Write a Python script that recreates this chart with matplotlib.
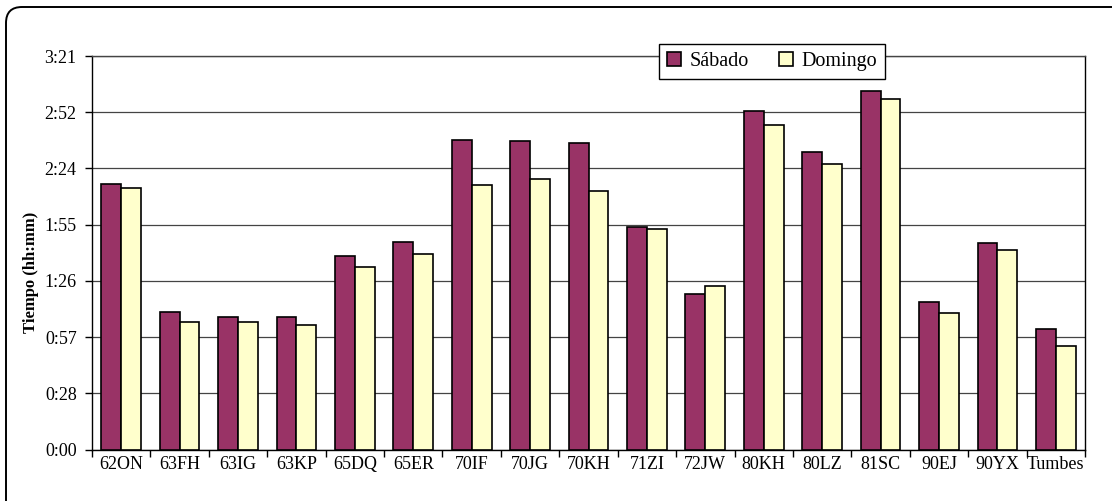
import numpy as np
import matplotlib
matplotlib.use("Agg")
import matplotlib.pyplot as plt
from matplotlib.patches import FancyBboxPatch

# ---- data (minutes) ----
categories = ["62ON", "63FH", "63IG", "63KP", "65DQ", "65ER", "70IF", "70JG", "70KH",
              "71ZI", "72JW", "80KH", "80LZ", "81SC", "90EJ", "90YX", "Tumbes"]
sabado = [136.0, 70.3, 67.9, 67.9, 99.3, 106.5, 158.7, 158.0, 157.2,
          113.8, 79.7, 173.4, 152.4, 183.7, 75.7, 105.8, 61.9]
domingo = [134.0, 65.3, 65.3, 63.8, 93.5, 100.0, 135.5, 138.6, 132.3,
           112.8, 83.8, 166.1, 146.4, 179.7, 70.1, 102.4, 53.2]
series_names = ["Sábado", "Domingo"]
tick_seconds = [0, 1728, 3456, 5184, 6912, 8640, 10368, 12096]

plt.rcParams['font.family'] = ['Liberation Serif', 'DejaVu Serif']

fig = plt.figure(figsize=(11.12, 5.01), dpi=100)
ax = fig.add_axes([92/1112, 51.5/501, (1085-92)/1112, (449.5-56)/501])

x = np.arange(len(categories))
w = 0.34
ax.bar(x - w/2, sabado, w, color="#993366", edgecolor="black", linewidth=1.2,
       label=series_names[0], zorder=3)
ax.bar(x + w/2, domingo, w, color="#FFFFCC", edgecolor="black", linewidth=1.2,
       label=series_names[1], zorder=3)

ax.set_xlim(-0.5, len(categories) - 0.5)
ymax = tick_seconds[-1] / 60
ax.set_ylim(0, ymax)
yt = [s / 60 for s in tick_seconds]
ax.set_yticks(yt)
ax.set_yticklabels([f"{s // 3600}:{(s % 3600) // 60:02d}" for s in tick_seconds], fontsize=13)
ax.yaxis.grid(True, color="#444444", linewidth=0.9, zorder=0)
ax.set_axisbelow(True)

ax.set_xticks(np.arange(len(categories) + 1) - 0.5)
ax.set_xticklabels([])
ax.set_xticks(x, minor=True)
ax.set_xticklabels(categories, minor=True, fontsize=13)
ax.tick_params(axis='x', which='minor', length=0, pad=5)
ax.tick_params(axis='x', which='major', length=5, width=1, color="black")
ax.tick_params(axis='y', length=5, width=1, pad=6, color="black")

for s in ax.spines.values():
    s.set_color("black")
    s.set_linewidth(1.0)
ax.spines['top'].set_color("#444444")

ax.set_ylabel("Tiempo (hh:mm)", fontsize=12, fontweight="bold")
ax.yaxis.set_label_coords((39 - 92) / 993, (449.5 - 272) / 393.5)

leg = fig.legend(loc="center", bbox_to_anchor=((656+888)/2/1112, 1 - 61.5/501),
                 ncol=2, fontsize=14.5, frameon=True, fancybox=False,
                 edgecolor="black", framealpha=1, handlelength=0.7, handleheight=0.7,
                 handletextpad=0.4, columnspacing=1.5, borderpad=0.4)
leg.get_frame().set_linewidth(1.0)

frame = FancyBboxPatch((0.06, -0.2), 11.3, 5.14, boxstyle="round,pad=0,rounding_size=0.16",
                       transform=fig.dpi_scale_trans, facecolor="none",
                       edgecolor="black", linewidth=1.4)
fig.patches.append(frame)

fig.savefig("out.png", dpi=100)
